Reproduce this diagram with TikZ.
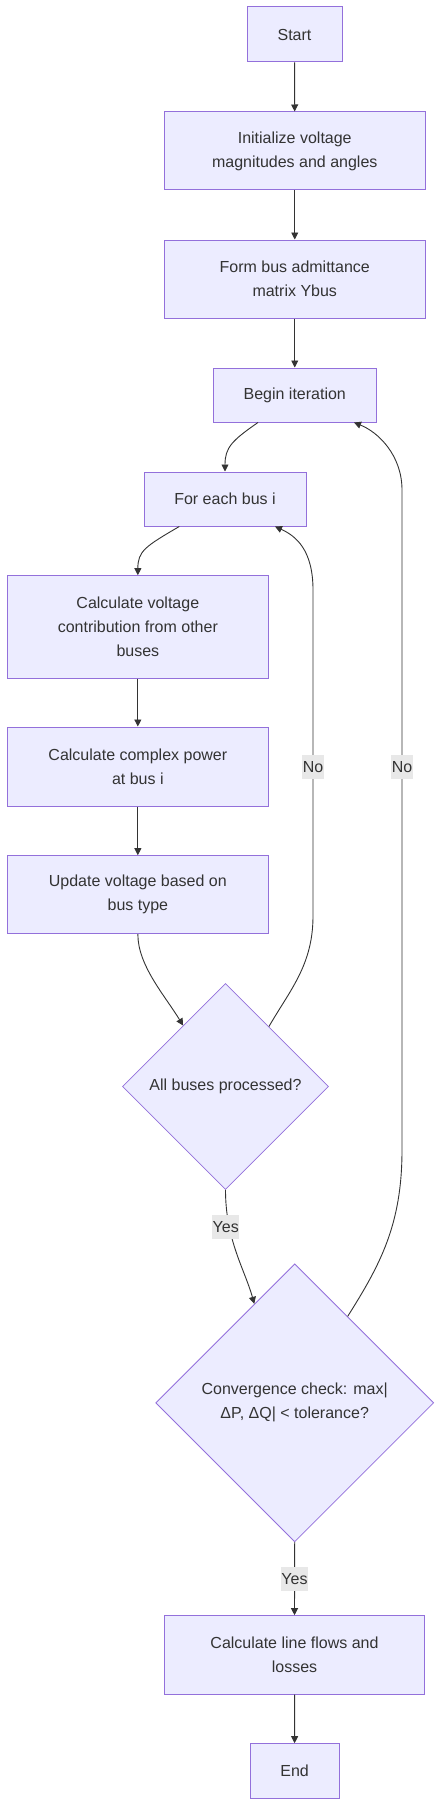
\documentclass[tikz,border=0pt]{standalone}
\usepackage{fontspec}
\setmainfont{Liberation Sans}
\usetikzlibrary{shapes.geometric,arrows.meta,calc}
\definecolor{nodefill}{HTML}{ECECFF}
\definecolor{nodestroke}{HTML}{9370DB}
\definecolor{edgecol}{HTML}{333333}
\definecolor{labelbg}{HTML}{E8E8E8}
\definecolor{txt}{HTML}{333333}
\begin{document}
\begin{tikzpicture}[x=1pt,y=-1pt,
 every node/.style={font=\fontsize{16}{24}\selectfont, text=txt},
 procbox/.style={rectangle, draw=nodestroke, fill=nodefill, line width=1pt, inner sep=0pt, align=center},
 decbox/.style={diamond, draw=nodestroke, fill=nodefill, line width=0.8pt, inner sep=0pt, align=center, aspect=1},
 flow/.style={draw=edgecol, line width=0.9pt, -{Triangle[length=7pt,width=7pt]}},
 edgelabel/.style={fill=labelbg, inner sep=0pt, inner xsep=0.5pt, minimum height=24pt, text=txt}
]
\useasboundingbox (0,0) rectangle (442,1806);

\node[procbox, minimum width=95pt, minimum height=55pt] (start) at (294.5,34.5) {Start};
\node[procbox, minimum width=260.5pt, minimum height=78pt] (init) at (294.75,151) {Initialize voltage\\magnitudes and angles};
\node[procbox, minimum width=260.5pt, minimum height=78pt] (form) at (294.75,279) {Form bus admittance\\matrix Ybus};
\node[procbox, minimum width=162.5pt, minimum height=54pt] (begin) at (294.75,395) {Begin iteration};
\node[procbox, minimum width=162pt, minimum height=54pt] (foreach) at (225,499) {For each bus i};
\node[procbox, minimum width=260.3pt, minimum height=102.3pt] (calcv) at (137.85,626.85) {Calculate voltage\\contribution from other\\buses};
\node[procbox, minimum width=260.3pt, minimum height=79pt] (calcc) at (137.85,766.5) {Calculate complex power\\at bus i};
\node[procbox, minimum width=260.3pt, minimum height=78pt] (update) at (137.85,894.7) {Update voltage based on\\bus type};
\node[decbox, minimum width=206pt, minimum height=206pt] (d1) at (225.5,1086.5) {All buses processed?};
\node[decbox, minimum width=278pt, minimum height=278pt] (d2) at (294.7,1402.8) {Convergence check: max|\\ΔP, ΔQ| < tolerance?};
\node[procbox, minimum width=260.4pt, minimum height=78.3pt] (lines) at (294.5,1654.85) {Calculate line flows and\\losses};
\node[procbox, minimum width=88.7pt, minimum height=54.3pt] (end) at (294.65,1770.85) {End};

\draw[flow] (start) -- (init);
\draw[flow] (init) -- (form);
\draw[flow] (form) -- (begin.north);
\draw[flow] ([xshift=-36.75pt]begin.south) .. controls +(-26,18) and +(0,-24) .. (foreach.north);
\draw[flow] ([xshift=-45.7pt]foreach.south) .. controls +(-34.3,20) and +(0,-24) .. (calcv.north);
\draw[flow] (calcv) -- (calcc);
\draw[flow] (calcc) -- (update);
\draw[flow] (update.south) .. controls +(0,31.3) and +(-18.3,-30) .. ($(d1.north)!0.41!(d1.west)$);
\draw[flow] ($(d1.north)!0.42!(d1.east)$) .. controls (290,990) and (313,965) .. (313,916) -- (313,590) .. controls (313,550) and (296,536) .. ([xshift=50pt]foreach.south);
\draw[flow] (d1.south) .. controls +(0,50) and +(-9.4,-34) .. ($(d2.north)!0.29!(d2.west)$);
\draw[flow] ($(d2.north)!0.38!(d2.east)$) .. controls (380,1265) and (402,1225) .. (402,1150) -- (402,490) .. controls (402,455) and (378,432) .. ([xshift=59.25pt]begin.south);
\draw[flow] (d2.south) -- (lines.north);
\draw[flow] (lines) -- (end);

\node[edgelabel] (no1) at (313,767) {No};
\node[edgelabel] (no2) at (402,767) {No};
\node[edgelabel] (yes1) at (225.7,1227) {Yes};
\node[edgelabel] (yes2) at (294.5,1579) {Yes};
\end{tikzpicture}
\end{document}
